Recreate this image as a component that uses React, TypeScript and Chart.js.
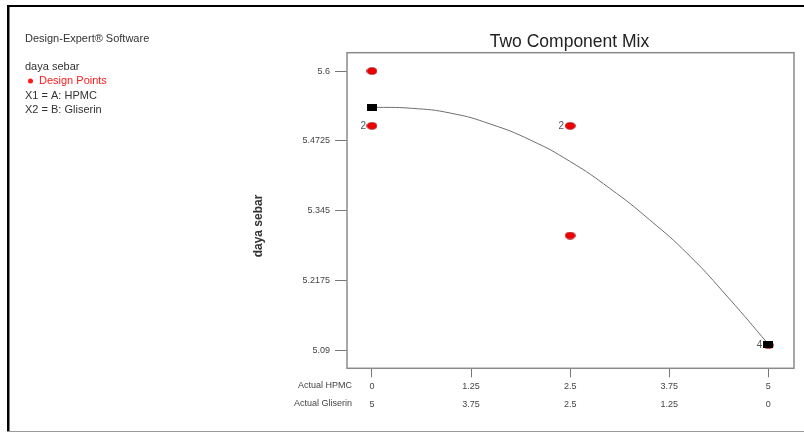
import React, { useEffect, useRef } from 'react';
import { Chart, registerables } from 'chart.js';

Chart.register(...registerables);

// Fitted model curve (Actual HPMC -> daya sebar)
const curveX = [0, 0.5, 1, 1.5, 2, 2.5, 3, 3.5, 4, 4.5, 5];
const curveY = [5.534, 5.532, 5.523, 5.503, 5.474, 5.435, 5.386, 5.329, 5.264, 5.186, 5.102];

// Design points
const designX = [0, 0, 2.5, 2.5, 5];
const designY = [5.6, 5.5, 5.5, 5.3, 5.1];
const designCount = [1, 2, 2, 1, 4];

// Curve end markers
const endX = [0, 5];
const endY = [5.534, 5.102];

// Axes
const yTicks = [5.09, 5.2175, 5.345, 5.4725, 5.6];
const yTickLabels = ['5.09', '5.2175', '5.345', '5.4725', '5.6'];
const xTicks = [0, 1.25, 2.5, 3.75, 5];
const hpmcLabels = ['0', '1.25', '2.5', '3.75', '5'];
const gliserinLabels = ['5', '3.75', '2.5', '1.25', '0'];

const FONT = '"Liberation Sans", Arial, sans-serif';

function makeEllipse(): HTMLCanvasElement {
  const c = document.createElement('canvas');
  c.width = 11;
  c.height = 8;
  const g = c.getContext('2d')!;
  g.beginPath();
  g.ellipse(5.5, 4, 4.8, 3.3, 0, 0, Math.PI * 2);
  g.fillStyle = '#f00000';
  g.fill();
  g.lineWidth = 0.8;
  g.strokeStyle = '#a00000';
  g.stroke();
  return c;
}

function makeRect(): HTMLCanvasElement {
  const c = document.createElement('canvas');
  c.width = 10;
  c.height = 7;
  const g = c.getContext('2d')!;
  g.fillStyle = '#000';
  g.fillRect(0, 0, 10, 7);
  return c;
}

const decor = {
  id: 'decor',
  afterDraw(chart: any) {
    const ctx = chart.ctx as CanvasRenderingContext2D;
    const { left, right, top, bottom } = chart.chartArea;
    const xs = chart.scales.x;
    const ys = chart.scales.y;
    ctx.save();

    // outer frame
    ctx.fillStyle = '#000';
    ctx.fillRect(7, 5, 2.5, 427);
    ctx.fillRect(7, 5, 797, 2);
    ctx.fillStyle = '#999';
    ctx.fillRect(7, 431, 797, 1);

    // plot frame
    ctx.strokeStyle = '#8a8a8a';
    ctx.lineWidth = 1.5;
    ctx.strokeRect(left, top, right - left, bottom - top);

    // count labels
    ctx.fillStyle = '#555';
    ctx.font = `10px ${FONT}`;
    ctx.textAlign = 'right';
    ctx.textBaseline = 'middle';
    for (let i = 0; i < designX.length; i++) {
      if (designCount[i] > 1) {
        const px = xs.getPixelForValue(designX[i]);
        const py = ys.getPixelForValue(designY[i]);
        ctx.fillText(String(designCount[i]), px - 6, py + 0.5);
      }
    }

    // title
    ctx.fillStyle = '#222';
    ctx.font = `17.5px ${FONT}`;
    ctx.textAlign = 'center';
    ctx.textBaseline = 'middle';
    ctx.fillText('Two Component Mix', (left + right) / 2 - 1, 42);

    // left info text
    ctx.textAlign = 'left';
    ctx.font = `11px ${FONT}`;
    ctx.fillStyle = '#333';
    ctx.fillText('Design-Expert® Software', 25, 38.5);
    ctx.fillText('daya sebar', 25, 67);
    ctx.fillStyle = '#ff1a1a';
    ctx.beginPath();
    ctx.arc(30.5, 81, 2.5, 0, Math.PI * 2);
    ctx.fill();
    ctx.fillText('Design Points', 39, 81);
    ctx.fillStyle = '#333';
    ctx.fillText('X1 = A: HPMC', 25, 95.5);
    ctx.fillText('X2 = B: Gliserin', 25, 109.5);

    // x row labels
    ctx.font = `9px ${FONT}`;
    ctx.fillStyle = '#444';
    ctx.textAlign = 'right';
    ctx.fillText('Actual HPMC', 352, 386);
    ctx.fillText('Actual Gliserin', 352, 404);

    // y axis title
    ctx.save();
    ctx.translate(259, 226);
    ctx.rotate(-Math.PI / 2);
    ctx.font = `bold 12px ${FONT}`;
    ctx.fillStyle = '#333';
    ctx.textAlign = 'center';
    ctx.textBaseline = 'middle';
    ctx.fillText('daya sebar', 0, 0);
    ctx.restore();

    ctx.restore();
  },
};

export default function App() {
  const ref = useRef<HTMLCanvasElement | null>(null);

  useEffect(() => {
    if (!ref.current) return;
    const ellipse = makeEllipse();
    const rect = makeRect();
    const chart = new Chart(ref.current, {
      type: 'scatter',
      data: {
        datasets: [
          {
            label: 'ends',
            data: endX.map((x, i) => ({ x, y: endY[i] })),
            pointStyle: rect as any,
            pointRadius: 5,
            showLine: false,
          },
          {
            label: 'design',
            data: designX.map((x, i) => ({ x, y: designY[i] })),
            pointStyle: ellipse as any,
            pointRadius: 5,
            showLine: false,
          },
          {
            label: 'curve',
            data: curveX.map((x, i) => ({ x, y: curveY[i] })),
            showLine: true,
            borderColor: '#6e6e6e',
            borderWidth: 1,
            pointRadius: 0,
            tension: 0.5,
          } as any,
        ],
      },
      options: {
        animation: false,
        responsive: false,
        events: [],
        layout: { padding: { left: 0, top: 52.7, right: 10, bottom: 0 } },
        plugins: { legend: { display: false }, tooltip: { enabled: false }, title: { display: false } },
        scales: {
          x: {
            type: 'linear',
            min: -0.315,
            max: 5.324,
            afterFit: (s: any) => { s.height = 433 - 368.3; },
            afterBuildTicks: (s: any) => { s.ticks = xTicks.map((v) => ({ value: v })); },
            grid: { display: true, drawOnChartArea: false, drawTicks: true, tickLength: 9, color: '#777', lineWidth: 1 },
            border: { display: false },
            ticks: {
              padding: 0,
              maxRotation: 0,
              autoSkip: false,
              color: '#444',
              font: { size: 9, family: FONT, lineHeight: 2 },
              callback: (v: any) => {
                const i = xTicks.indexOf(Number(v));
                return i >= 0 ? [hpmcLabels[i], gliserinLabels[i]] : '';
              },
            },
          },
          y: {
            type: 'linear',
            min: 5.0579,
            max: 5.6334,
            afterFit: (s: any) => { s.width = 347; },
            afterBuildTicks: (s: any) => { s.ticks = yTicks.map((v) => ({ value: v })); },
            grid: { display: true, drawOnChartArea: false, drawTicks: true, tickLength: 12, color: '#777', lineWidth: 1 },
            border: { display: false },
            ticks: {
              padding: 5,
              autoSkip: false,
              color: '#444',
              font: { size: 9, family: FONT },
              callback: (v: any) => {
                const i = yTicks.indexOf(Number(v));
                return i >= 0 ? yTickLabels[i] : '';
              },
            },
          },
        },
      },
      plugins: [decor],
    });
    return () => chart.destroy();
  }, []);

  return (
    <div style={{ position: 'absolute', left: 0, top: 0, width: 804, height: 433, background: '#fff' }}>
      <canvas ref={ref} width={804} height={433} style={{ width: 804, height: 433, display: 'block' }} />
    </div>
  );
}
